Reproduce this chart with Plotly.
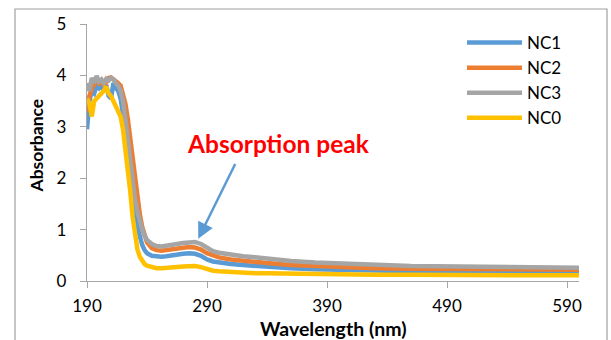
import plotly.graph_objects as go

# Wavelength grid (nm) shared by all spectra
wavelength = [190, 192, 194, 196, 198, 200, 202, 204, 206, 208, 210, 212, 214, 216, 218,
              220, 222, 224, 226, 228, 230, 232, 234, 236, 238, 240, 244, 248, 252, 256,
              260, 265, 270, 275, 280, 285, 290, 295, 300, 310, 320, 330, 340, 360, 380,
              400, 430, 460, 500, 550, 600]

# Absorbance spectra of the samples
nc1 = [2.95, 3.50, 3.70, 3.65, 3.80, 3.75, 3.80, 3.70, 3.82, 3.60, 3.55, 3.85, 3.75, 3.70, 3.55,
       3.30, 2.95, 2.50, 2.05, 1.65, 1.30, 1.05, 0.85, 0.70, 0.60, 0.54, 0.49, 0.47, 0.47, 0.48,
       0.50, 0.52, 0.53, 0.54, 0.53, 0.49, 0.42, 0.38, 0.36, 0.33, 0.31, 0.29, 0.28, 0.25, 0.23,
       0.22, 0.20, 0.19, 0.19, 0.18, 0.18]
nc2 = [3.30, 3.60, 3.75, 3.85, 3.90, 3.85, 3.90, 3.80, 3.90, 3.95, 3.96, 3.93, 3.90, 3.85, 3.80,
       3.65, 3.45, 3.15, 2.75, 2.40, 2.05, 1.65, 1.30, 1.05, 0.87, 0.75, 0.64, 0.60, 0.59, 0.60,
       0.61, 0.63, 0.65, 0.66, 0.65, 0.61, 0.54, 0.49, 0.46, 0.42, 0.39, 0.37, 0.35, 0.31, 0.29,
       0.27, 0.25, 0.24, 0.23, 0.22, 0.22]
nc3 = [3.85, 3.70, 3.95, 3.85, 3.99, 3.88, 3.92, 3.85, 3.93, 3.90, 3.95, 3.92, 3.85, 3.80, 3.70,
       3.50, 3.15, 2.75, 2.30, 1.90, 1.60, 1.35, 1.15, 1.00, 0.88, 0.80, 0.72, 0.68, 0.67, 0.68,
       0.70, 0.72, 0.74, 0.76, 0.76, 0.72, 0.64, 0.58, 0.55, 0.51, 0.48, 0.46, 0.43, 0.39, 0.36,
       0.34, 0.31, 0.29, 0.28, 0.27, 0.26]
nc0 = [3.55, 3.45, 3.20, 3.50, 3.55, 3.60, 3.62, 3.70, 3.78, 3.65, 3.60, 3.50, 3.40, 3.30, 3.20,
       2.95, 2.60, 2.20, 1.75, 1.25, 0.90, 0.62, 0.47, 0.38, 0.33, 0.30, 0.27, 0.25, 0.25, 0.25,
       0.26, 0.27, 0.28, 0.29, 0.29, 0.27, 0.23, 0.20, 0.19, 0.17, 0.16, 0.15, 0.15, 0.14, 0.13,
       0.13, 0.12, 0.12, 0.11, 0.11, 0.11]

series_names = ["NC1", "NC2", "NC3", "NC0"]
series_values = [nc1, nc2, nc3, nc0]
series_colors = ["#5B9BD5", "#ED7D31", "#A5A5A5", "#FFC000"]

x_ticks = [190, 290, 390, 490, 590]
y_ticks = [0, 1, 2, 3, 4, 5]

W, H = 611, 340
ML, MR, MT, MB = 87, 32, 24, 59
PW, PH = W - ML - MR, H - MT - MB


def px_x(p):
    return (p - ML) / PW


def px_y(p):
    return (H - MB - p) / PH


FONT = "Lato"
AXIS_COLOR = "#A6A6A6"

fig = go.Figure()
for name, vals, col in zip(series_names, series_values, series_colors):
    fig.add_trace(go.Scatter(
        x=wavelength, y=vals, mode="lines", name=name, legendgroup=name,
        line=dict(color=col, width=4.5),
    ))

axis_common = dict(
    showgrid=False, zeroline=False, showline=True, linecolor=AXIS_COLOR, linewidth=1.3,
    ticks="outside", ticklen=6, tickcolor=AXIS_COLOR, tickwidth=1.3,
    tickfont=dict(family=FONT, size=17, color="#000000"),
)
fig.update_xaxes(range=[190, 600], tickvals=x_ticks, ticklabelstandoff=3, **axis_common)
fig.update_yaxes(range=[0, 5], tickvals=y_ticks, ticklabelstandoff=10, **axis_common)

annotations = [
    # axis titles
    dict(text="<b>Wavelength (nm)</b>", x=0.5, y=px_y(328), xref="paper", yref="paper",
         showarrow=False, font=dict(family=FONT, size=19.5, color="#000000"),
         xanchor="center", yanchor="middle"),
    dict(text="<b>Absorbance</b>", x=px_x(36), y=px_y(145.5), xref="paper", yref="paper",
         showarrow=False, textangle=-90, font=dict(family=FONT, size=17.5, color="#000000"),
         xanchor="center", yanchor="middle"),
    # callout label and arrow pointing at the peak
    dict(text="<b>Absorption peak</b>", x=px_x(278), y=px_y(143), xref="paper", yref="paper",
         showarrow=False, font=dict(family=FONT, size=24.5, color="#FF0000"),
         xanchor="center", yanchor="middle"),
    dict(text="", x=282.7, y=0.82, xref="x", yref="y", showarrow=True,
         ax=37.7, ay=-76.3, arrowhead=2, arrowsize=1.3, arrowwidth=2.5,
         arrowcolor="#5B9BD5", standoff=0),
    # running text above the chart box
    dict(text="<b>absorbance</b>", x=px_x(17), y=px_y(-8), xref="paper", yref="paper",
         showarrow=False, font=dict(family="Liberation Serif", size=18, color="#000000"),
         xanchor="left", yanchor="middle"),
]

shapes = [
    # chart frame
    dict(type="rect", xref="paper", yref="paper",
         x0=px_x(15), x1=px_x(607), y0=px_y(360), y1=px_y(9),
         line=dict(color="#A0A0A0", width=1.2), fillcolor="rgba(0,0,0,0)", layer="below"),
]

fig.update_layout(
    width=W, height=H,
    margin=dict(l=ML, r=MR, t=MT, b=MB),
    paper_bgcolor="#FFFFFF", plot_bgcolor="#FFFFFF",
    showlegend=True,
    legend=dict(x=px_x(462), y=px_y(25), xanchor="left", yanchor="top",
                font=dict(family=FONT, size=17, color="#000000"),
                bgcolor="rgba(0,0,0,0)", itemwidth=55, tracegroupgap=9,
                traceorder="normal"),
    annotations=annotations,
    shapes=shapes,
)

fig.write_html("out.html")
